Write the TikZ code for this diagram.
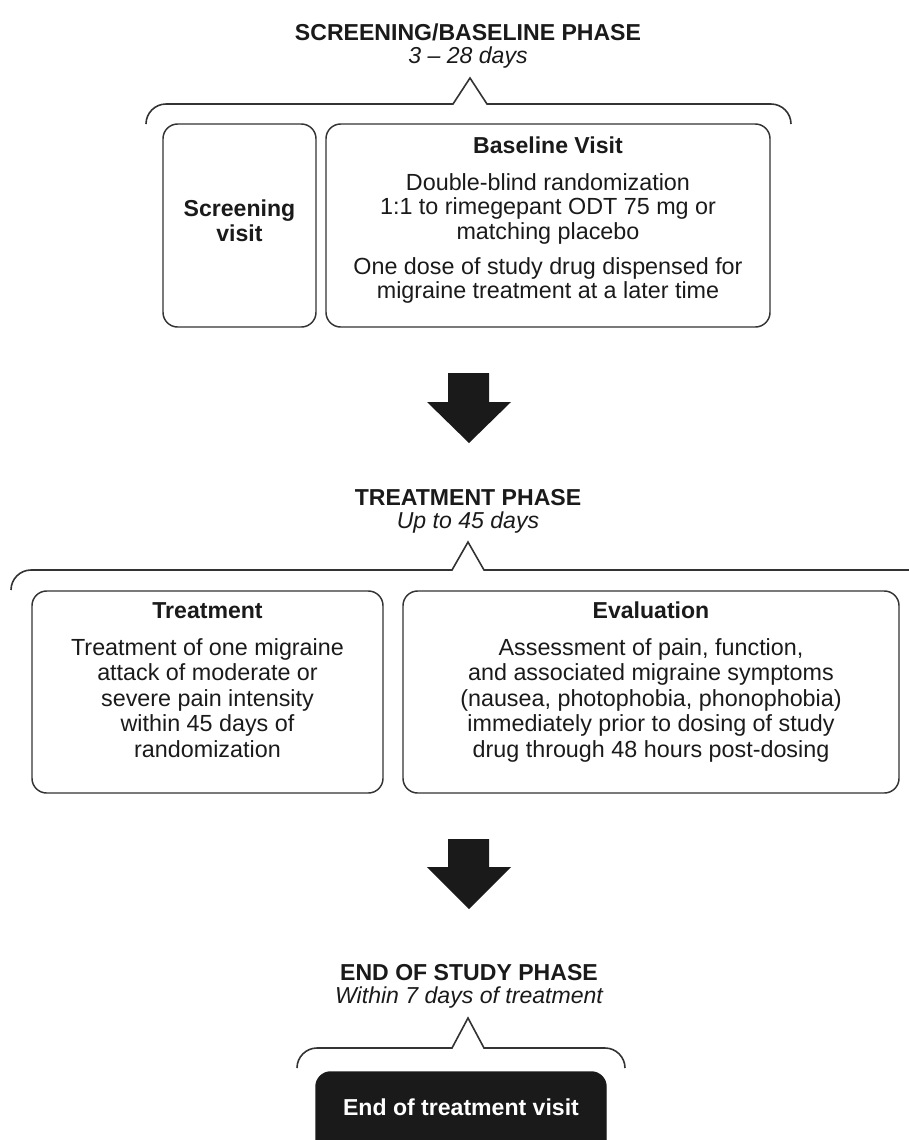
\documentclass[tikz,border=0pt]{standalone}
\usepackage{fontspec}
\setmainfont{Liberation Sans}
\definecolor{linecol}{HTML}{333333}
\definecolor{textcol}{HTML}{1A1A1A}
\definecolor{fillcol}{HTML}{1A1A1A}
\begin{document}
\begin{tikzpicture}[x=0.75pt,y=-0.75pt,
  txt/.style={anchor=base, inner sep=0pt, text=textcol, font=\fontsize{17.5pt}{18.75pt}\selectfont},
  btxt/.style={txt, font=\fontsize{17.3pt}{18.75pt}\selectfont\bfseries},
  itxt/.style={txt, font=\fontsize{17.3pt}{18.75pt}\selectfont\itshape},
  box/.style={draw=linecol, line width=1.1pt, rounded corners=11pt, inner sep=0pt},
  brace/.style={draw=linecol, line width=1.2pt, miter limit=10},
  blockarrow/.style={fill=fillcol, draw=none}]
\useasboundingbox (0,0) rectangle (909,1140);
\clip (0,0) rectangle (909,1140);

% ---------- Screening / baseline phase ----------
\node[btxt] (t1) at (468,40) {SCREENING/BASELINE PHASE};
\node[itxt] (s1) at (468,63) {3 – 28 days};
\draw[brace] (146,124) .. controls (146,113) and (155,104) .. (166,104) -- (453,104) -- (470,78) -- (487,104) -- (771,104) .. controls (782,104) and (791,113) .. (791,124);

\node[box, minimum width=114.75pt, minimum height=152.25pt] (screen) at (239.5,225.5) {};
\node[btxt] (sc1) at (239.5,216.5) {Screening};
\node[btxt] (sc2) at (239.5,241) {visit};

\node[box, minimum width=333pt, minimum height=152.25pt] (base) at (548,225.5) {};
\node[btxt] (b0) at (548,153) {Baseline Visit};
\node[txt] (b1) at (548,190) {Double-blind randomization};
\node[txt] (b2) at (548,214.5) {1:1 to rimegepant ODT 75 mg or};
\node[txt] (b3) at (548,239) {matching placebo};
\node[txt] (b4) at (548,274) {One dose of study drug dispensed for};
\node[txt] (b5) at (548,298.5) {migraine treatment at a later time};

% arrow 1
\fill[blockarrow] (448,373) -- (489,373) -- (489,402) -- (511,402) -- (469,443) -- (427,402) -- (448,402) -- cycle;

% ---------- Treatment phase ----------
\node[btxt] (t2) at (468,505) {TREATMENT PHASE};
\node[itxt] (s2) at (468,528) {Up to 45 days};
\draw[brace] (11,590) .. controls (11,579) and (20,570) .. (31,570) -- (452,570) -- (468,542) -- (484,570) -- (909,570) .. controls (920,570) and (929,579) .. (929,590);

\node[box, minimum width=263.25pt, minimum height=151.5pt] (treat) at (207.5,692) {};
\node[btxt] (tr0) at (207.5,618) {Treatment};
\node[txt] (tr1) at (207.5,655) {Treatment of one migraine};
\node[txt] (tr2) at (207.5,680.5) {attack of moderate or};
\node[txt] (tr3) at (207.5,706) {severe pain intensity};
\node[txt] (tr4) at (207.5,731.5) {within 45 days of};
\node[txt] (tr5) at (207.5,757) {randomization};

\node[box, minimum width=372pt, minimum height=151.5pt] (eval) at (651,692) {};
\node[btxt] (ev0) at (651,618) {Evaluation};
\node[txt] (ev1) at (651,655) {Assessment of pain, function,};
\node[txt] (ev2) at (651,680.5) {and associated migraine symptoms};
\node[txt] (ev3) at (651,706) {(nausea, photophobia, phonophobia)};
\node[txt] (ev4) at (651,731.5) {immediately prior to dosing of study};
\node[txt] (ev5) at (651,757) {drug through 48 hours post-dosing};

% arrow 2
\fill[blockarrow] (448,839) -- (489,839) -- (489,867) -- (511,867) -- (469,909) -- (427,867) -- (448,867) -- cycle;

% ---------- End of study phase ----------
\node[btxt] (t3) at (469,980) {END OF STUDY PHASE};
\node[itxt] (s3) at (469,1003) {Within 7 days of treatment};
\draw[brace] (297,1068) .. controls (297,1057) and (306,1048) .. (317,1048) -- (452,1048) -- (468,1018) -- (484,1048) -- (605,1048) .. controls (616,1048) and (625,1057) .. (625,1068);

\node[box, fill=fillcol, draw=fillcol, minimum width=217.5pt, minimum height=73.5pt] (endv) at (461,1121) {};
\node[btxt, text=white] (e1) at (461,1115) {End of treatment visit};
\end{tikzpicture}
\end{document}
